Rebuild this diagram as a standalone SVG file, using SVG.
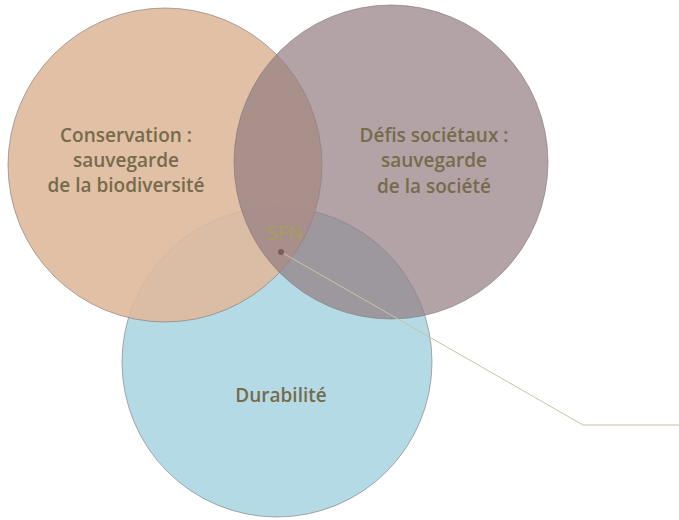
<svg xmlns="http://www.w3.org/2000/svg" width="679" height="520" viewBox="0 0 679 520">
<style>
.c{stroke:#7d7474;stroke-width:1;stroke-opacity:0.6}
.t{font-family:"Open Sans","DejaVu Sans",sans-serif;font-weight:600;font-size:19px;fill:#766b4b;text-anchor:middle}
.s{font-family:"Open Sans","DejaVu Sans",sans-serif;font-weight:500;font-size:20px;fill:#a89e5e;text-anchor:middle}
</style>
<rect width="679" height="520" fill="#ffffff"/>
<g id="durabilite">
<circle class="c" cx="277" cy="362" r="155" fill="#b4dbe5"/>
</g>
<g id="conservation">
<circle class="c" cx="165" cy="165" r="157" fill="#deb99c" fill-opacity="0.9"/>
</g>
<g id="defis">
<circle class="c" cx="391" cy="162" r="157" fill="#937c80" fill-opacity="0.7"/>
</g>
<g id="labels">
<text class="t" x="126" y="142">Conservation :</text>
<text class="t" x="126" y="167">sauvegarde</text>
<text class="t" x="126" y="192">de la biodiversité</text>
<text class="t" x="434" y="142">Défis sociétaux :</text>
<text class="t" x="434" y="167">sauvegarde</text>
<text class="t" x="434" y="193">de la société</text>
<text class="t" x="281" y="402">Durabilité</text>
</g>
<g id="connectors">
<polyline points="281,252 583,425 679,425" fill="none" stroke="#c8c3a6" stroke-width="1"/>
</g>
<g id="sfn">
<text class="s" x="285" y="240">SFN</text>
<circle cx="281" cy="252" r="3" fill="#7a5e58"/>
</g>
</svg>
